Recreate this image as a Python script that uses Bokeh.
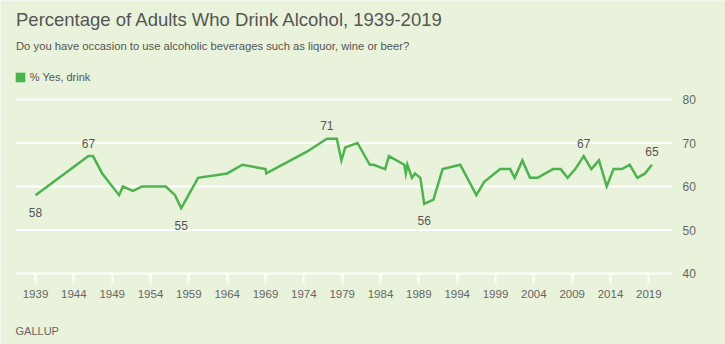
from bokeh.plotting import figure
from bokeh.models import (ColumnDataSource, FixedTicker, Label, Legend, LegendItem, LinearAxis)
from bokeh.core.properties import value
from bokeh.embed import file_html
from bokeh.resources import INLINE

# ---- data ----
years = [1939.0, 1945.9, 1946.5, 1947.7, 1949.9, 1950.4, 1951.7, 1952.9, 1956.0, 1957.2,
         1958.0, 1960.2, 1964.0, 1966.0, 1969.0, 1969.1, 1974.4, 1977.0, 1978.3, 1978.9,
         1979.4, 1981.0, 1982.6, 1983.1, 1984.6, 1985.1, 1987.1, 1987.3, 1987.5, 1988.1,
         1988.5, 1989.2, 1989.7, 1990.9, 1992.1, 1994.4, 1996.5, 1997.5, 1999.6, 2000.9,
         2001.5, 2002.5, 2003.5, 2004.5, 2005.5, 2006.5, 2007.5, 2008.4, 2009.4, 2010.5,
         2011.5, 2012.5, 2013.5, 2014.4, 2015.5, 2016.5, 2017.5, 2018.5, 2019.4]
pct_yes = [58, 67, 67, 63, 58, 60, 59, 60, 60, 58,
           55, 62, 63, 65, 64, 63, 68, 71, 71, 66,
           69, 70, 65, 65, 64, 67, 65, 63, 65, 62,
           63, 62, 56, 57, 64, 65, 58, 61, 64, 64,
           62, 66, 62, 62, 63, 64, 64, 62, 64, 67,
           64, 66, 60, 64, 64, 65, 62, 63, 65]

label_years = [1939.0, 1945.9, 1958.0, 1977.0, 1989.7, 2010.5, 2019.4]
label_values = [58, 67, 55, 71, 56, 67, 65]
label_side = ["below", "above", "below", "above", "below", "above", "above"]

x_ticks = [1939, 1944, 1949, 1954, 1959, 1964, 1969, 1974, 1979, 1984, 1989,
           1994, 1999, 2004, 2009, 2014, 2019]
y_ticks = [40, 50, 60, 70, 80]

title_text = "Percentage of Adults Who Drink Alcohol, 1939-2019"
subtitle_text = "Do you have occasion to use alcoholic beverages such as liquor, wine or beer?"
series_name = "% Yes, drink"
source_text = "GALLUP"

# ---- style / layout ----
BG = "#E9F2DB"
GREEN = "#4DB34F"
TXT = "#555555"
TICK_TXT = "#666666"
FONT = "Liberation Sans"

W, H = 725, 344
PLOT_LEFT, PLOT_RIGHT, PLOT_TOP, PLOT_BOTTOM = 15, 672, 99, 273
FIRST_TICK_PX = 35
PX_PER_YEAR = 7.667
Y_MIN, Y_MAX = 40, 80
px_per_unit = (PLOT_BOTTOM - PLOT_TOP) / (Y_MAX - Y_MIN)

# the frame covers the whole canvas; axes are pinned with fixed_location
x_start = x_ticks[0] - FIRST_TICK_PX / PX_PER_YEAR
x_end = x_start + W / PX_PER_YEAR
y_start = Y_MIN - (H - PLOT_BOTTOM) / px_per_unit
y_end = Y_MAX + PLOT_TOP / px_per_unit

def px_to_year(px):
    return x_start + px / PX_PER_YEAR

p = figure(width=W, height=H, x_range=(x_start, x_end), y_range=(y_start, y_end),
           output_backend="svg", toolbar_location=None,
           x_axis_type=None, y_axis_type=None,
           min_border=0, min_border_left=0, min_border_right=0,
           min_border_top=0, min_border_bottom=0)
p.background_fill_color = BG
p.border_fill_color = BG
p.outline_line_color = None
p.grid.visible = False

# horizontal grid lines
grid_src = ColumnDataSource(dict(y=y_ticks,
                                 x0=[px_to_year(PLOT_LEFT)] * len(y_ticks),
                                 x1=[px_to_year(PLOT_RIGHT)] * len(y_ticks)))
p.segment(x0="x0", y0="y", x1="x1", y1="y", source=grid_src,
          line_color="white", line_width=2)

xa = LinearAxis(fixed_location=Y_MIN, ticker=FixedTicker(ticks=x_ticks))
xa.axis_line_color = None
xa.major_tick_line_color = "white"
xa.major_tick_line_width = 2
xa.major_tick_in = 0
xa.major_tick_out = 10
xa.minor_tick_line_color = None
xa.major_label_standoff = 6
xa.major_label_text_font = FONT
xa.major_label_text_font_size = "11.5px"
xa.major_label_text_color = TICK_TXT
p.add_layout(xa, "below")

ya = LinearAxis(fixed_location=px_to_year(PLOT_RIGHT), ticker=FixedTicker(ticks=y_ticks))
ya.axis_line_color = None
ya.major_tick_line_color = None
ya.minor_tick_line_color = None
ya.major_tick_in = 0
ya.major_tick_out = 0
ya.major_label_standoff = 10
ya.major_label_text_font = FONT
ya.major_label_text_font_size = "12px"
ya.major_label_text_color = TICK_TXT
p.add_layout(ya, "right")

src = ColumnDataSource(dict(x=years, y=pct_yes))
line_r = p.line("x", "y", source=src, line_color=GREEN, line_width=2.5, line_join="miter")

offsets = [-13 if s == "above" else 17 for s in label_side]
lsrc = ColumnDataSource(dict(x=label_years, y=label_values,
                             t=[str(v) for v in label_values], off=offsets))
p.text("x", "y", text="t", y_offset="off", source=lsrc, text_align="center",
       text_baseline="middle", text_font=value(FONT), text_font_size="12px",
       text_color=TXT)

# legend swatch: zero-area quads on the series (invisible on the chart, square in the legend)
swatch = p.quad(left="x", right="x", top="y", bottom="y", source=src,
                fill_color=GREEN, line_color=None)
legend = Legend(items=[LegendItem(label=series_name, renderers=[swatch])],
                location=(13.8, H - (69.5 + 13)),
                orientation="horizontal", padding=0, margin=0, spacing=0,
                glyph_width=12, glyph_height=12, label_standoff=4, label_height=10,
                label_text_font=FONT, label_text_font_size="11px", label_text_color=TXT,
                background_fill_alpha=0, border_line_color=None)
p.add_layout(legend, "center")

def canvas_label(text, cx, cy_base, size, color):
    return Label(x=cx, y=H - cy_base, x_units="screen", y_units="screen",
                 text=text, text_font=FONT, text_font_size=size, text_color=color,
                 text_baseline="alphabetic", text_align="left")

p.add_layout(canvas_label(title_text, 15.5, 19, "18.5px", TXT))
p.add_layout(canvas_label(subtitle_text, 15.5, 45, "11.25px", TXT))
p.add_layout(canvas_label(source_text, 15, 330.5, "11px", TICK_TXT))

open("out.html", "w").write(file_html(p, INLINE))
